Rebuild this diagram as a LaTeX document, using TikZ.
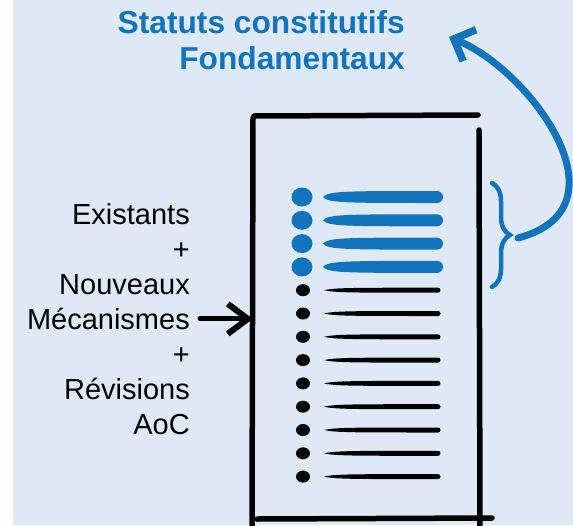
\documentclass[tikz,border=0pt]{standalone}
\usepackage{fontspec}
\setmainfont{Liberation Sans}
\usetikzlibrary{arrows.meta, decorations.pathreplacing}
\definecolor{paleblue}{HTML}{DFE9F5}
\definecolor{inkblue}{HTML}{1174BC}
\tikzstyle{sketch} = [line width=5.5pt, line cap=round]
\tikzstyle{pointer} = [line width=5pt, line cap=round, line join=round, -{Straight Barb[length=20pt,width=30pt,line width=6pt]}]
\tikzstyle{lift} = [inkblue, line width=7pt, line cap=round, line join=round, -{Straight Barb[length=17pt,width=34pt,line width=7.5pt]}]

\begin{document}
\begin{tikzpicture}[x=1pt, y=-1pt]
\useasboundingbox (0,0) rectangle (573,525);
\fill[paleblue] (13,0) rectangle (573,525);
\node[anchor=north east, inner sep=0, align=right, text=inkblue, font=\fontsize{31.7}{36}\selectfont\bfseries] (title) at (405,10) {Statuts constitutifs\\Fondamentaux};
\node[anchor=north east, inner sep=0, align=right, font=\fontsize{29}{35}\selectfont] (inputs) at (190,203) {Existants\\+\\Nouveaux\\Mécanismes\\+\\Révisions\\AoC};
\node[minimum width=226pt, minimum height=404pt, inner sep=0] (doc) at (366,320) {};
% the sheet
\draw[sketch] (254,116) -- (478,115);
\draw[sketch] (253,118) -- (252,530);
\draw[sketch] (479,130) -- (480,530);
\draw[sketch] (257,519) -- (492,518);
% fundamental lines
\foreach \i in {0,...,3} {
  \pgfmathsetmacro{\y}{197+23.3*\i}
  \fill[inkblue] (302,\y) ellipse[x radius=10.5pt, y radius=9.5pt];
  \fill[inkblue] (323,\y) .. controls (328,\y-6) and (345,\y-6) .. (437,\y-6) arc[start angle=-90, end angle=90, radius=6] .. controls (345,\y+6) and (328,\y+6) .. (323,\y) -- cycle;
}
% other lines
\foreach \i in {4,...,12} {
  \pgfmathsetmacro{\y}{197+23.3*\i}
  \fill (303,\y) ellipse[x radius=7pt, y radius=6pt];
  \fill (324,\y) .. controls (335,\y-2.5) and (350,\y-2.5) .. (438,\y-2.5) arc[start angle=-90, end angle=90, radius=2.5] .. controls (350,\y+2.5) and (335,\y+2.5) .. (324,\y) -- cycle;
}
% brace and arrows
\draw[inkblue, line width=4.5pt, line cap=round, decorate, decoration={brace, amplitude=18pt}] (492,183) -- (492,287);
\coordinate (bracetip) at (518,238);
\coordinate (liftend) at (449,37);
\draw[lift] (bracetip) .. controls (632,208) and (530,70) .. (liftend);
\draw[pointer] ([xshift=10pt]inputs.east) -- (doc.west |- inputs.east);
\end{tikzpicture}
\end{document}
